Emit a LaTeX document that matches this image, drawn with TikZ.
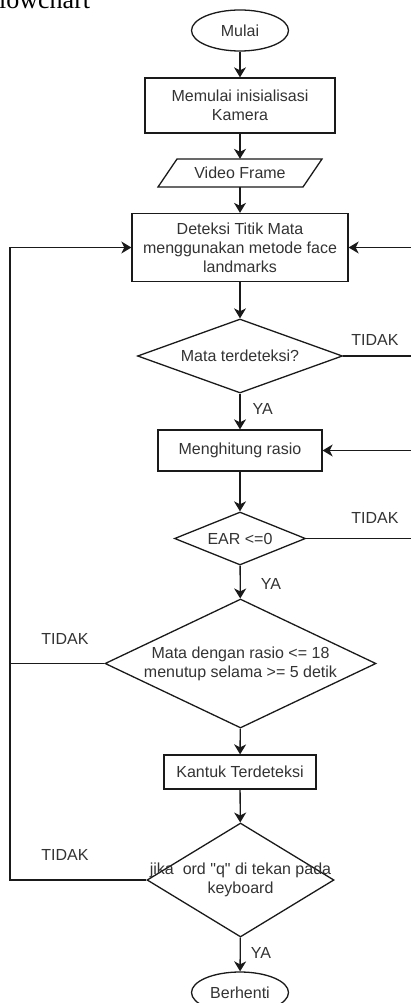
\documentclass[tikz,border=0pt]{standalone}
\usepackage{fontspec}
\setmainfont{Liberation Sans}[Ligatures=TeXOff]
\newfontfamily\titlefont{Liberation Serif}
\usetikzlibrary{shapes.geometric,arrows.meta}
\definecolor{txt}{HTML}{333333}
\definecolor{ln}{HTML}{1A1A1A}
\tikzset{
  base/.style={draw=ln, line width=1.3pt, inner sep=0pt, text=txt, font=\fontsize{16}{19.2}\selectfont, align=center},
  proc/.style={base, rectangle},
  term/.style={base, ellipse},
  dec/.style={base, diamond},
  lbl/.style={text=txt, font=\fontsize{16}{19.2}\selectfont, inner sep=0pt},
  conn/.style={draw=ln, line width=1.3pt, -{Stealth[length=10pt,width=12pt,inset=3pt]}},
}
\begin{document}
\begin{tikzpicture}[x=1pt,y=-1pt]
\useasboundingbox (0,0) rectangle (411,1003);
\clip (0,0) rectangle (411,1003);
\fill[white] (0,0) rectangle (411,1003);
\node[anchor=base west, inner sep=0pt, font=\titlefont\fontsize{26}{30}\selectfont] (title) at (-1,8.5) {lowchart};

\node[term, minimum width=97pt, minimum height=41pt] (mulai) at (240,30.5) {Mulai};
\node[proc, minimum width=190pt, minimum height=55pt] (init) at (240,105.5) {Memulai inisialisasi\\Kamera};
\node[lbl, minimum width=145pt, minimum height=28pt] (video) at (240,173) {Video Frame};
\draw[draw=ln, line width=1.3pt] (177,159) -- (322,159) -- (303,187) -- (158,187) -- cycle;
\node[proc, minimum width=216pt, minimum height=68pt] (detect) at (240,247.5) {Deteksi Titik Mata\\menggunakan metode face\\landmarks};
\node[dec, minimum width=205pt, minimum height=74pt, label={[lbl]center:Mata terdeteksi?}] (q1) at (240,356) {};
\node[proc, minimum width=164pt, minimum height=41pt] (rasio) at (240,450.5) {Menghitung rasio};
\node[dec, minimum width=131pt, minimum height=53pt, label={[lbl]center:EAR <=0}] (q2) at (240,538.5) {};
\node[dec, minimum width=271pt, minimum height=129pt, label={[lbl,align=center]center:Mata dengan rasio <= 18\\menutup selama >= 5 detik}] (q3) at (240.5,663.5) {};
\node[proc, minimum width=152pt, minimum height=34pt] (kantuk) at (240,772) {Kantuk Terdeteksi};
\node[dec, minimum width=187pt, minimum height=114pt, label={[lbl,align=center]center:jika\ \ ord "q" di tekan pada\\keyboard}] (q4) at (240.5,880) {};
\node[term, minimum width=97pt, minimum height=41pt] (stop) at (240,992.5) {Berhenti};

\coordinate (L) at (10,0);
\coordinate (R) at (425,0);

\draw[conn] (mulai) -- (init);
\draw[conn] (init) -- (video.north -| init.south);
\draw[conn] (video) -- (detect);
\draw[conn] (detect) -- (q1);
\draw[conn] (q1) -- (rasio) node[lbl, pos=0.42, right=12pt] (ya1) {YA};
\draw[conn] (rasio) -- (q2);
\draw[conn] (q2) -- (q3) node[lbl, pos=0.55, right=20pt] (ya2) {YA};
\draw[conn] (q3) -- (kantuk);
\draw[conn] (kantuk) -- (q4);
\draw[conn] (q4) -- (stop) node[lbl, pos=0.45, right=10pt] (ya3) {YA};

\draw[conn] (q1.east) -- (q1.east -| R) |- (detect.east);
\node[lbl] (t1) at (375,340) {TIDAK};
\draw[conn] (q2.east) -- (q2.east -| R) |- (rasio.east);
\node[lbl] (t2) at (375,518) {TIDAK};
\draw[conn] (q3.west) -- (q3.west -| L) |- (detect.west);
\node[lbl] (t3) at (65,639) {TIDAK};
\draw[draw=ln, line width=1.3pt] (q4.west) -- (q4.west -| L) -- (q3.west -| L);
\node[lbl] (t4) at (65,855) {TIDAK};
\end{tikzpicture}
\end{document}
